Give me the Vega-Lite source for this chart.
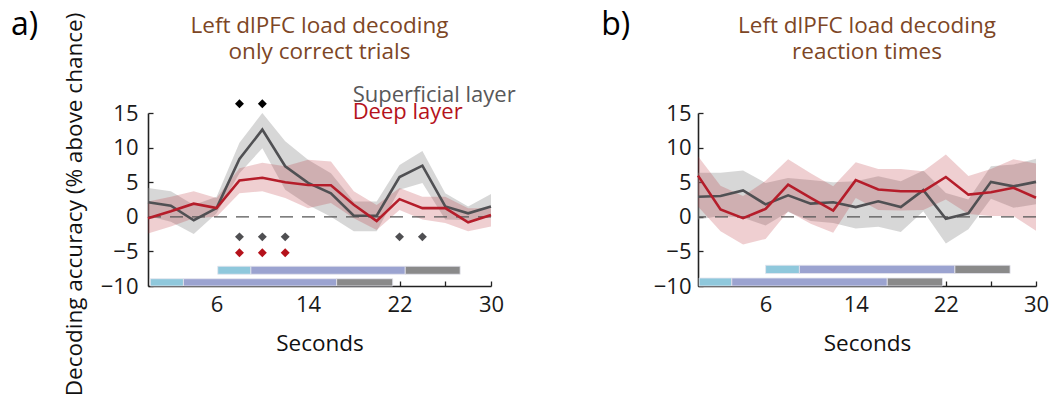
{
  "$schema": "https://vega.github.io/schema/vega-lite/v6.json",
  "background": "white",
  "padding": {"left": 10, "top": 8, "right": 0, "bottom": 0},
  "config": {
    "view": {"stroke": null},
    "font": "Open Sans",
    "axis": {
      "grid": false,
      "domainColor": "#222222",
      "domainWidth": 1.6,
      "tickColor": "#222222",
      "tickWidth": 1.3,
      "tickSize": -5,
      "labelOverlap": false,
      "labelFlush": false,
      "labelFont": "Open Sans",
      "labelFontSize": 22,
      "labelColor": "#1a1a1a",
      "titleFont": "Open Sans",
      "titleFontSize": 22.5,
      "titleFontWeight": "normal",
      "titleColor": "#111111"
    },
    "title": {"font": "Open Sans", "fontSize": 22.5, "fontWeight": "normal", "color": "#7d4625", "lineHeight": 26, "anchor": "middle", "frame": "group"}
  },
  "datasets": {
    "a": [
      {"t": 0, "s": 2.1, "sLo": 0.1, "sHi": 4.15, "d": -0.2, "dLo": -2.4, "dHi": 2.2},
      {"t": 2, "s": 1.6, "sLo": -0.7, "sHi": 3.7, "d": 0.8, "dLo": -1.4, "dHi": 2.9},
      {"t": 4, "s": -0.5, "sLo": -2.5, "sHi": 1.7, "d": 1.9, "dLo": -0.2, "dHi": 3.7},
      {"t": 6, "s": 1.25, "sLo": 0.5, "sHi": 2.9, "d": 1.25, "dLo": 0.0, "dHi": 2.7},
      {"t": 8, "s": 8.35, "sLo": 6.3, "sHi": 10.7, "d": 5.25, "dLo": 3.4, "dHi": 7.0},
      {"t": 10, "s": 12.6, "sLo": 9.9, "sHi": 15.0, "d": 5.65, "dLo": 3.7, "dHi": 7.8},
      {"t": 12, "s": 7.3, "sLo": 3.9, "sHi": 10.9, "d": 5.0, "dLo": 2.7, "dHi": 7.3},
      {"t": 14, "s": 4.9, "sLo": 1.7, "sHi": 8.25, "d": 4.6, "dLo": 1.25, "dHi": 8.25},
      {"t": 16, "s": 3.4, "sLo": 0.0, "sHi": 6.3, "d": 4.55, "dLo": 2.0, "dHi": 8.0},
      {"t": 18, "s": 0.15, "sLo": -2.1, "sHi": 2.2, "d": 1.75, "dLo": -0.2, "dHi": 3.7},
      {"t": 20, "s": 0.15, "sLo": -2.1, "sHi": 2.2, "d": -0.6, "dLo": -1.9, "dHi": 1.7},
      {"t": 22, "s": 5.75, "sLo": 3.9, "sHi": 7.5, "d": 2.55, "dLo": 1.0, "dHi": 4.15},
      {"t": 24, "s": 7.4, "sLo": 4.9, "sHi": 9.5, "d": 1.25, "dLo": -0.4, "dHi": 2.9},
      {"t": 26, "s": 1.5, "sLo": -0.4, "sHi": 3.4, "d": 1.25, "dLo": -0.9, "dHi": 2.9},
      {"t": 28, "s": 0.5, "sLo": -0.5, "sHi": 1.5, "d": -0.8, "dLo": -2.1, "dHi": 1.25},
      {"t": 30, "s": 1.5, "sLo": 0.0, "sHi": 3.3, "d": 0.25, "dLo": -1.4, "dHi": 1.25}
    ],
    "b": [
      {"t": 0, "s": 2.9, "sLo": -0.4, "sHi": 6.35, "d": 5.95, "dLo": 1.5, "dHi": 8.75},
      {"t": 2, "s": 3.0, "sLo": 0.1, "sHi": 6.35, "d": 1.05, "dLo": -2.1, "dHi": 4.5},
      {"t": 4, "s": 3.8, "sLo": -0.15, "sHi": 6.7, "d": -0.2, "dLo": -4.0, "dHi": 3.0},
      {"t": 6, "s": 1.8, "sLo": -1.25, "sHi": 4.9, "d": 1.15, "dLo": -3.2, "dHi": 5.2},
      {"t": 8, "s": 3.1, "sLo": 0.7, "sHi": 5.6, "d": 4.65, "dLo": 0.8, "dHi": 8.3},
      {"t": 10, "s": 1.9, "sLo": -0.6, "sHi": 5.3, "d": 2.75, "dLo": -1.0, "dHi": 6.3},
      {"t": 12, "s": 2.1, "sLo": -0.9, "sHi": 5.0, "d": 0.9, "dLo": -2.3, "dHi": 4.4},
      {"t": 14, "s": 1.4, "sLo": -1.7, "sHi": 5.15, "d": 5.3, "dLo": 2.7, "dHi": 7.9},
      {"t": 16, "s": 2.25, "sLo": -1.45, "sHi": 5.85, "d": 3.95, "dLo": 1.0, "dHi": 6.9},
      {"t": 18, "s": 1.4, "sLo": -2.2, "sHi": 5.15, "d": 3.7, "dLo": 0.9, "dHi": 6.9},
      {"t": 20, "s": 3.85, "sLo": 0.8, "sHi": 6.7, "d": 3.7, "dLo": 1.0, "dHi": 6.6},
      {"t": 22, "s": -0.3, "sLo": -3.85, "sHi": 3.45, "d": 5.75, "dLo": 2.5, "dHi": 9.0},
      {"t": 24, "s": 0.5, "sLo": -1.8, "sHi": 2.5, "d": 3.2, "dLo": 0.4, "dHi": 5.9},
      {"t": 26, "s": 5.05, "sLo": 2.6, "sHi": 7.3, "d": 3.55, "dLo": 0.1, "dHi": 6.9},
      {"t": 28, "s": 4.4, "sLo": 1.3, "sHi": 7.55, "d": 4.2, "dLo": 0.1, "dHi": 8.3},
      {"t": 30, "s": 5.05, "sLo": 1.8, "sHi": 8.4, "d": 2.75, "dLo": -2.0, "dHi": 7.7}
    ],
    "barsA": [
      {"seg": "cue", "x1": 0.2, "x2": 3.1, "y1": -10, "y2": -8.95},
      {"seg": "delay", "x1": 3.1, "x2": 16.5, "y1": -10, "y2": -8.95},
      {"seg": "resp", "x1": 16.5, "x2": 21.4, "y1": -10, "y2": -8.95},
      {"seg": "cue", "x1": 6.1, "x2": 9.0, "y1": -8.3, "y2": -7.15},
      {"seg": "delay", "x1": 9.0, "x2": 22.5, "y1": -8.3, "y2": -7.15},
      {"seg": "resp", "x1": 22.5, "x2": 27.3, "y1": -8.3, "y2": -7.15}
    ],
    "barsB": [
      {"seg": "cue", "x1": 0.1, "x2": 3.0, "y1": -10, "y2": -8.85},
      {"seg": "delay", "x1": 3.0, "x2": 16.8, "y1": -10, "y2": -8.85},
      {"seg": "resp", "x1": 16.8, "x2": 21.7, "y1": -10, "y2": -8.85},
      {"seg": "cue", "x1": 6.0, "x2": 9.0, "y1": -8.2, "y2": -7.0},
      {"seg": "delay", "x1": 9.0, "x2": 22.8, "y1": -8.2, "y2": -7.0},
      {"seg": "resp", "x1": 22.8, "x2": 27.7, "y1": -8.2, "y2": -7.0}
    ],
    "sigA": [
      {"t": 8, "v": 16.35, "grp": "both"},
      {"t": 10, "v": 16.35, "grp": "both"},
      {"t": 8, "v": -2.9, "grp": "sup"},
      {"t": 10, "v": -2.9, "grp": "sup"},
      {"t": 12, "v": -2.9, "grp": "sup"},
      {"t": 22, "v": -2.9, "grp": "sup"},
      {"t": 24, "v": -2.9, "grp": "sup"},
      {"t": 8, "v": -5.2, "grp": "deep"},
      {"t": 10, "v": -5.2, "grp": "deep"},
      {"t": 12, "v": -5.2, "grp": "deep"}
    ],
    "one": [{}]
  },
  "hconcat": [
    {
      "width": 343,
      "height": 173,
      "title": {"text": ["Left dlPFC load decoding", "only correct trials"], "offset": -55},
      "layer": [
        {
          "data": {"name": "a"},
          "mark": {"type": "area", "color": "#9a9a9a", "opacity": 0.4},
          "encoding": {
            "x": {"field": "t", "type": "quantitative", "scale": {"domain": [0, 30], "nice": false, "zero": false},
                  "axis": {"values": [2, 6, 10, 14, 18, 22, 26, 30], "labelExpr": "(datum.value - 6) % 8 == 0 ? datum.label : ''", "title": "Seconds", "labelPadding": 13, "titlePadding": 17}},
            "y": {"field": "sHi", "type": "quantitative", "scale": {"domain": [-10, 15], "nice": false, "zero": false},
                  "axis": {"values": [-10, -5, 0, 5, 10, 15], "tickCount": 6, "labelOverlap": false, "title": "Decoding accuracy (% above chance)", "labelPadding": 15, "titlePadding": 14, "titleY": 91}},
            "y2": {"field": "sLo"}
          }
        },
        {
          "data": {"name": "a"},
          "mark": {"type": "area", "color": "#b8262e", "opacity": 0.22},
          "encoding": {
            "x": {"field": "t", "type": "quantitative"},
            "y": {"field": "dHi", "type": "quantitative"},
            "y2": {"field": "dLo"}
          }
        },
        {
          "data": {"name": "one"},
          "mark": {"type": "rule", "color": "#555555", "strokeWidth": 1.3, "strokeDash": [13, 9]},
          "encoding": {"y": {"datum": 0}}
        },
        {
          "data": {"name": "a"},
          "mark": {"type": "line", "color": "#505053", "strokeWidth": 2.6},
          "encoding": {"x": {"field": "t", "type": "quantitative"}, "y": {"field": "s", "type": "quantitative"}}
        },
        {
          "data": {"name": "a"},
          "mark": {"type": "line", "color": "#b51d2a", "strokeWidth": 2.6},
          "encoding": {"x": {"field": "t", "type": "quantitative"}, "y": {"field": "d", "type": "quantitative"}}
        },
        {
          "data": {"name": "sigA"},
          "mark": {"type": "point", "shape": "diamond", "filled": true, "size": 80, "opacity": 1},
          "encoding": {
            "x": {"field": "t", "type": "quantitative"},
            "y": {"field": "v", "type": "quantitative"},
            "fill": {"field": "grp", "type": "nominal", "scale": {"domain": ["both", "sup", "deep"], "range": ["#000000", "#4f4f52", "#b5121b"]}, "legend": null}
          }
        },
        {
          "data": {"name": "barsA"},
          "mark": {"type": "rect", "stroke": "#e4e4ee", "strokeWidth": 0.8},
          "encoding": {
            "x": {"field": "x1", "type": "quantitative"},
            "x2": {"field": "x2"},
            "y": {"field": "y1", "type": "quantitative"},
            "y2": {"field": "y2"},
            "color": {"field": "seg", "type": "nominal", "scale": {"domain": ["cue", "delay", "resp"], "range": ["#8fc8dc", "#9ba3d0", "#8a8a8a"]}, "legend": null}
          }
        },
        {
          "data": {"name": "one"},
          "mark": {"type": "text", "align": "left", "baseline": "alphabetic", "fontSize": 22, "color": "#58585a"},
          "encoding": {"x": {"datum": 17.9}, "y": {"datum": 16.6}, "text": {"value": "Superficial layer"}}
        },
        {
          "data": {"name": "one"},
          "mark": {"type": "text", "align": "left", "baseline": "alphabetic", "fontSize": 22, "color": "#b5121b"},
          "encoding": {"x": {"datum": 17.9}, "y": {"datum": 14.1}, "text": {"value": "Deep layer"}}
        },
        {
          "data": {"name": "one"},
          "mark": {"type": "text", "align": "center", "baseline": "alphabetic", "fontSize": 32, "color": "#000000"},
          "encoding": {"x": {"datum": -10.8}, "y": {"datum": 26.3}, "text": {"value": "a)"}}
        }
      ]
    },
    {
      "width": 338,
      "height": 173,
      "title": {"text": ["Left dlPFC load decoding", "reaction times"], "offset": -55},
      "layer": [
        {
          "data": {"name": "b"},
          "mark": {"type": "area", "color": "#9a9a9a", "opacity": 0.4},
          "encoding": {
            "x": {"field": "t", "type": "quantitative", "scale": {"domain": [0, 30], "nice": false, "zero": false},
                  "axis": {"values": [2, 6, 10, 14, 18, 22, 26, 30], "labelExpr": "(datum.value - 6) % 8 == 0 ? datum.label : ''", "title": "Seconds", "labelPadding": 13, "titlePadding": 17}},
            "y": {"field": "sHi", "type": "quantitative", "scale": {"domain": [-10, 15], "nice": false, "zero": false},
                  "axis": {"values": [-10, -5, 0, 5, 10, 15], "tickCount": 6, "labelOverlap": false, "title": null, "labelPadding": 12}},
            "y2": {"field": "sLo"}
          }
        },
        {
          "data": {"name": "b"},
          "mark": {"type": "area", "color": "#b8262e", "opacity": 0.22},
          "encoding": {
            "x": {"field": "t", "type": "quantitative"},
            "y": {"field": "dHi", "type": "quantitative"},
            "y2": {"field": "dLo"}
          }
        },
        {
          "data": {"name": "one"},
          "mark": {"type": "rule", "color": "#555555", "strokeWidth": 1.3, "strokeDash": [13, 9]},
          "encoding": {"y": {"datum": 0}}
        },
        {
          "data": {"name": "b"},
          "mark": {"type": "line", "color": "#505053", "strokeWidth": 2.6},
          "encoding": {"x": {"field": "t", "type": "quantitative"}, "y": {"field": "s", "type": "quantitative"}}
        },
        {
          "data": {"name": "b"},
          "mark": {"type": "line", "color": "#b51d2a", "strokeWidth": 2.6},
          "encoding": {"x": {"field": "t", "type": "quantitative"}, "y": {"field": "d", "type": "quantitative"}}
        },
        {
          "data": {"name": "barsB"},
          "mark": {"type": "rect", "stroke": "#e4e4ee", "strokeWidth": 0.8},
          "encoding": {
            "x": {"field": "x1", "type": "quantitative"},
            "x2": {"field": "x2"},
            "y": {"field": "y1", "type": "quantitative"},
            "y2": {"field": "y2"},
            "color": {"field": "seg", "type": "nominal", "scale": {"domain": ["cue", "delay", "resp"], "range": ["#8fc8dc", "#9ba3d0", "#8a8a8a"]}, "legend": null}
          }
        },
        {
          "data": {"name": "one"},
          "mark": {"type": "text", "align": "center", "baseline": "alphabetic", "fontSize": 32, "color": "#000000"},
          "encoding": {"x": {"datum": -7.3}, "y": {"datum": 26.3}, "text": {"value": "b)"}}
        }
      ]
    }
  ],
  "spacing": 207,
  "bounds": "flush"
}
